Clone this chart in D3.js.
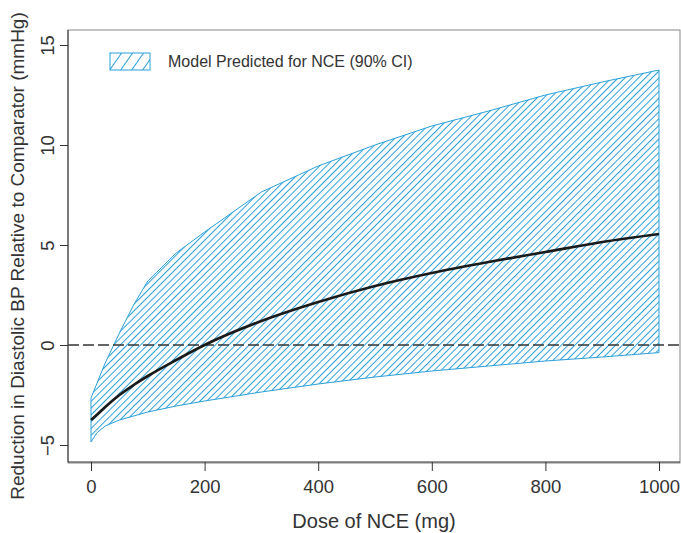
<!DOCTYPE html>
<html>
<head>
<meta charset="utf-8">
<script src="https://cdn.jsdelivr.net/npm/d3@7"></script>
<style>
  body { margin: 0; background: #fff; }
  text { font-family: "Liberation Sans", Arial, sans-serif; fill: #333; }
</style>
</head>
<body>
<script>
// dose grid (mg) and model predictions (mmHg)
const doses  = [0, 10, 25, 50, 75, 100, 150, 200, 300, 400, 500, 600, 700, 800, 900, 1000];
const median = [-3.75, -3.5, -3.1, -2.5, -2.0, -1.55, -0.75, 0.0, 1.2, 2.15, 2.95, 3.6, 4.15, 4.65, 5.15, 5.55];
const lower  = [-4.85, -4.4, -4.05, -3.75, -3.55, -3.35, -3.05, -2.8, -2.35, -1.95, -1.6, -1.3, -1.05, -0.8, -0.6, -0.38];
const upper  = [-2.65, -1.95, -0.9, 0.6, 2.0, 3.2, 4.6, 5.65, 7.65, 8.95, 10.0, 10.95, 11.7, 12.5, 13.15, 13.75];

const xTicks = [0, 200, 400, 600, 800, 1000];
const yTicks = [-5, 0, 5, 10, 15];

const W = 681, H = 533;
const margin = { top: 30, right: 1, bottom: 71, left: 68 };
const w = W - margin.left - margin.right, h = H - margin.top - margin.bottom;
const blue = "#2aa0da";

const svg = d3.select("body").append("svg").attr("width", W).attr("height", H);

const defs = svg.append("defs");
defs.append("pattern").attr("id", "hatch")
  .attr("patternUnits", "userSpaceOnUse")
  .attr("width", 4.8).attr("height", 10)
  .attr("patternTransform", "rotate(45)")
  .append("line").attr("x1", 0.5).attr("y1", 0).attr("x2", 0.5).attr("y2", 10)
  .attr("stroke", blue).attr("stroke-width", 1);
defs.append("pattern").attr("id", "hatchLegend")
  .attr("patternUnits", "userSpaceOnUse")
  .attr("width", 9).attr("height", 10)
  .attr("patternTransform", "rotate(35)")
  .append("line").attr("x1", 0.5).attr("y1", 0).attr("x2", 0.5).attr("y2", 10)
  .attr("stroke", blue).attr("stroke-width", 1);

const g = svg.append("g").attr("transform", `translate(${margin.left},${margin.top})`);

const x = d3.scaleLinear().domain([0, 1000]).range([23, 591]);
const y = d3.scaleLinear().domain([-5, 15]).range([415, 15]);

// CI band
const band = d3.area()
  .x((d, i) => x(doses[i]))
  .y0((d, i) => y(lower[i]))
  .y1((d, i) => y(upper[i]));
g.append("path").datum(doses)
  .attr("d", band)
  .attr("fill", "url(#hatch)")
  .attr("stroke", blue).attr("stroke-width", 1);

// zero reference
g.append("line")
  .attr("x1", 0).attr("x2", w)
  .attr("y1", y(0)).attr("y2", y(0))
  .attr("stroke", "#333").attr("stroke-width", 1.3)
  .attr("stroke-dasharray", "11,4");

// median prediction
const line = d3.line()
  .x((d, i) => x(doses[i]))
  .y((d, i) => y(median[i]))
  .curve(d3.curveMonotoneX);
g.append("path").datum(doses)
  .attr("d", line)
  .attr("fill", "none")
  .attr("stroke", "#1a1a1a").attr("stroke-width", 2.7);

// box
g.append("rect").attr("x", 0).attr("y", 0).attr("width", w).attr("height", h + 1)
  .attr("fill", "none").attr("stroke", "#888").attr("stroke-width", 1);

// axes
const xAxis = g.append("g").attr("transform", `translate(0,${h})`)
  .call(d3.axisBottom(x).tickValues(xTicks).tickSize(9).tickPadding(9).tickFormat(d3.format("d")));
xAxis.select(".domain").remove();
g.append("line").attr("x1", 0).attr("x2", w).attr("y1", h).attr("y2", h).attr("stroke", "#333");

const yAxis = g.append("g")
  .call(d3.axisLeft(y).tickValues(yTicks).tickSize(8).tickFormat(d3.format("d")));
yAxis.select(".domain").remove();
g.append("line").attr("x1", 0).attr("x2", 0).attr("y1", 0).attr("y2", h).attr("stroke", "#333");

g.selectAll(".tick line").attr("stroke", "#333");
xAxis.selectAll("text").attr("font-size", 18.5).attr("fill", "#333");
yAxis.selectAll(".tick text")
  .attr("font-size", 18.5).attr("fill", "#333")
  .attr("text-anchor", "middle")
  .attr("x", 0).attr("y", 0).attr("dy", "0.35em")
  .attr("transform", "translate(-20,0) rotate(-90)");

// axis titles
svg.append("text")
  .attr("x", margin.left + w / 2).attr("y", 528)
  .attr("text-anchor", "middle").attr("font-size", 20)
  .text("Dose of NCE (mg)");
svg.append("text")
  .attr("transform", `translate(24,${margin.top + h / 2 + 10}) rotate(-90)`)
  .attr("text-anchor", "middle").attr("font-size", 19)
  .text("Reduction in Diastolic BP Relative to Comparator (mmHg)");

// legend
const lg = svg.append("g").attr("transform", "translate(110,53)");
lg.append("rect").attr("width", 40).attr("height", 17)
  .attr("fill", "url(#hatchLegend)").attr("stroke", blue).attr("stroke-width", 1);
lg.append("text").attr("x", 58).attr("y", 14).attr("font-size", 16)
  .text("Model Predicted for NCE (90% CI)");
</script>
</body>
</html>
